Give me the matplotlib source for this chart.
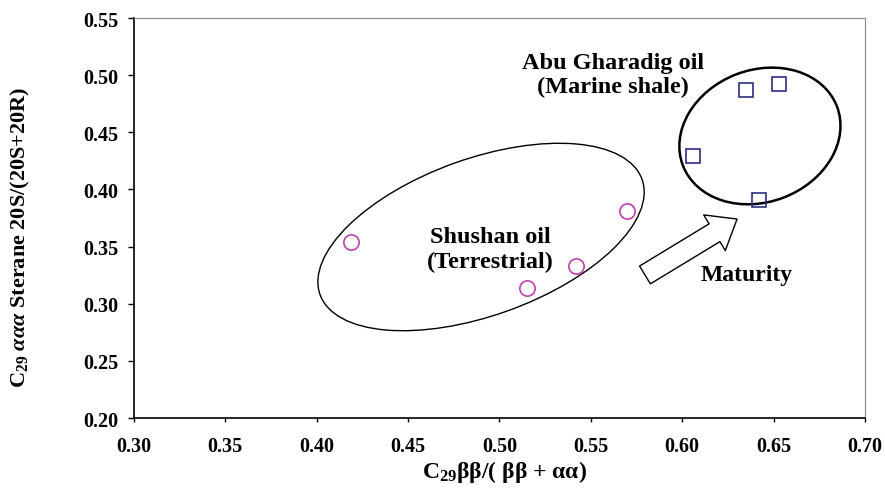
import matplotlib
matplotlib.use('Agg')
import matplotlib.pyplot as plt
from matplotlib.patches import Ellipse
from matplotlib.transforms import ScaledTranslation

plt.rcParams['font.family'] = 'Liberation Serif'
plt.rcParams['font.weight'] = 'bold'
plt.rcParams['mathtext.fontset'] = 'custom'
plt.rcParams['mathtext.rm'] = 'Liberation Serif:bold'
plt.rcParams['mathtext.it'] = 'Liberation Serif:italic:bold'
plt.rcParams['mathtext.bf'] = 'Liberation Serif:bold'

# Shushan oil (terrestrial)
shushan_x = [0.419, 0.515, 0.542, 0.570]
shushan_y = [0.354, 0.314, 0.333, 0.381]

# Abu Gharadig oil (marine shale)
abu_x = [0.606, 0.635, 0.653, 0.642]
abu_y = [0.429, 0.487, 0.492, 0.391]

xticks = [0.30, 0.35, 0.40, 0.45, 0.50, 0.55, 0.60, 0.65, 0.70]
yticks = [0.20, 0.25, 0.30, 0.35, 0.40, 0.45, 0.50, 0.55]

fig = plt.figure(figsize=(8.85, 4.89), dpi=100)
ax = fig.add_axes([0.1514, 0.1431, 0.826, 0.818])

ax.plot(shushan_x, shushan_y, 'o', ms=11, mfc='none', mec='#c040b0', mew=1.2)
ax.plot(abu_x, abu_y, 's', ms=10.5, mfc='none', mec='#2e2e80', mew=1.2)

ax.set_xlim(0.30, 0.70)
ax.set_ylim(0.20, 0.55)
ax.set_xticks(xticks)
ax.set_yticks(yticks)
ax.set_xticklabels([f'{v:.2f}' for v in xticks])
ax.set_yticklabels([f'{v:.2f}' for v in yticks])
ax.tick_params(labelsize=14.5, direction='out', width=1)
ax.tick_params(axis='x', length=3, pad=10)
ax.tick_params(axis='y', length=4.5, pad=7)

for s in ['top', 'right']:
    ax.spines[s].set_color('#888888')
for s in ['left', 'bottom']:
    ax.spines[s].set_linewidth(1.2)

fig.text(0.5695, 1 - 472 / 489, r'C$_{29}$ββ/( ββ + αα)', ha='center', va='center',
         fontsize=17, fontweight='bold')
fig.text(20 / 885, 0.5143, r'C$_{29}$ $\alpha\alpha\alpha$ Sterane 20S/(20S+20R)',
         ha='center', va='center', rotation=90, fontsize=16, fontweight='bold')

# group ellipses, sized in inches around a data-space centre
def ring(cx, cy, w, h, ang, lw):
    tr = fig.dpi_scale_trans + ScaledTranslation(cx, cy, ax.transData)
    ax.add_patch(Ellipse((0, 0), w, h, angle=ang, transform=tr,
                         fill=False, ec='black', lw=lw))

ring(0.4899, 0.3584, 3.42, 1.57, 19.7, 1.0)
ring(0.6425, 0.4468, 1.65, 1.32, 21, 1.8)

ax.text(0.4948, 0.348, 'Shushan oil\n(Terrestrial)', ha='center', va='center',
        fontsize=17.5, fontweight='bold', linespacing=1.2)
ax.text(0.562, 0.5005, 'Abu Gharadig oil\n(Marine shale)', ha='center', va='center',
        fontsize=17.5, fontweight='bold', linespacing=1.22)
ax.text(0.6354, 0.3252, 'Maturity', ha='center', va='center',
        fontsize=17, fontweight='bold')

ax.annotate('', xy=(0.630, 0.3741), xytext=(0.5796, 0.3252),
            arrowprops=dict(arrowstyle='simple,head_length=19,head_width=30,tail_width=15',
                            mutation_scale=1, fc='white', ec='black', lw=1,
                            shrinkA=0, shrinkB=0))

fig.savefig('out.png', dpi=100)
